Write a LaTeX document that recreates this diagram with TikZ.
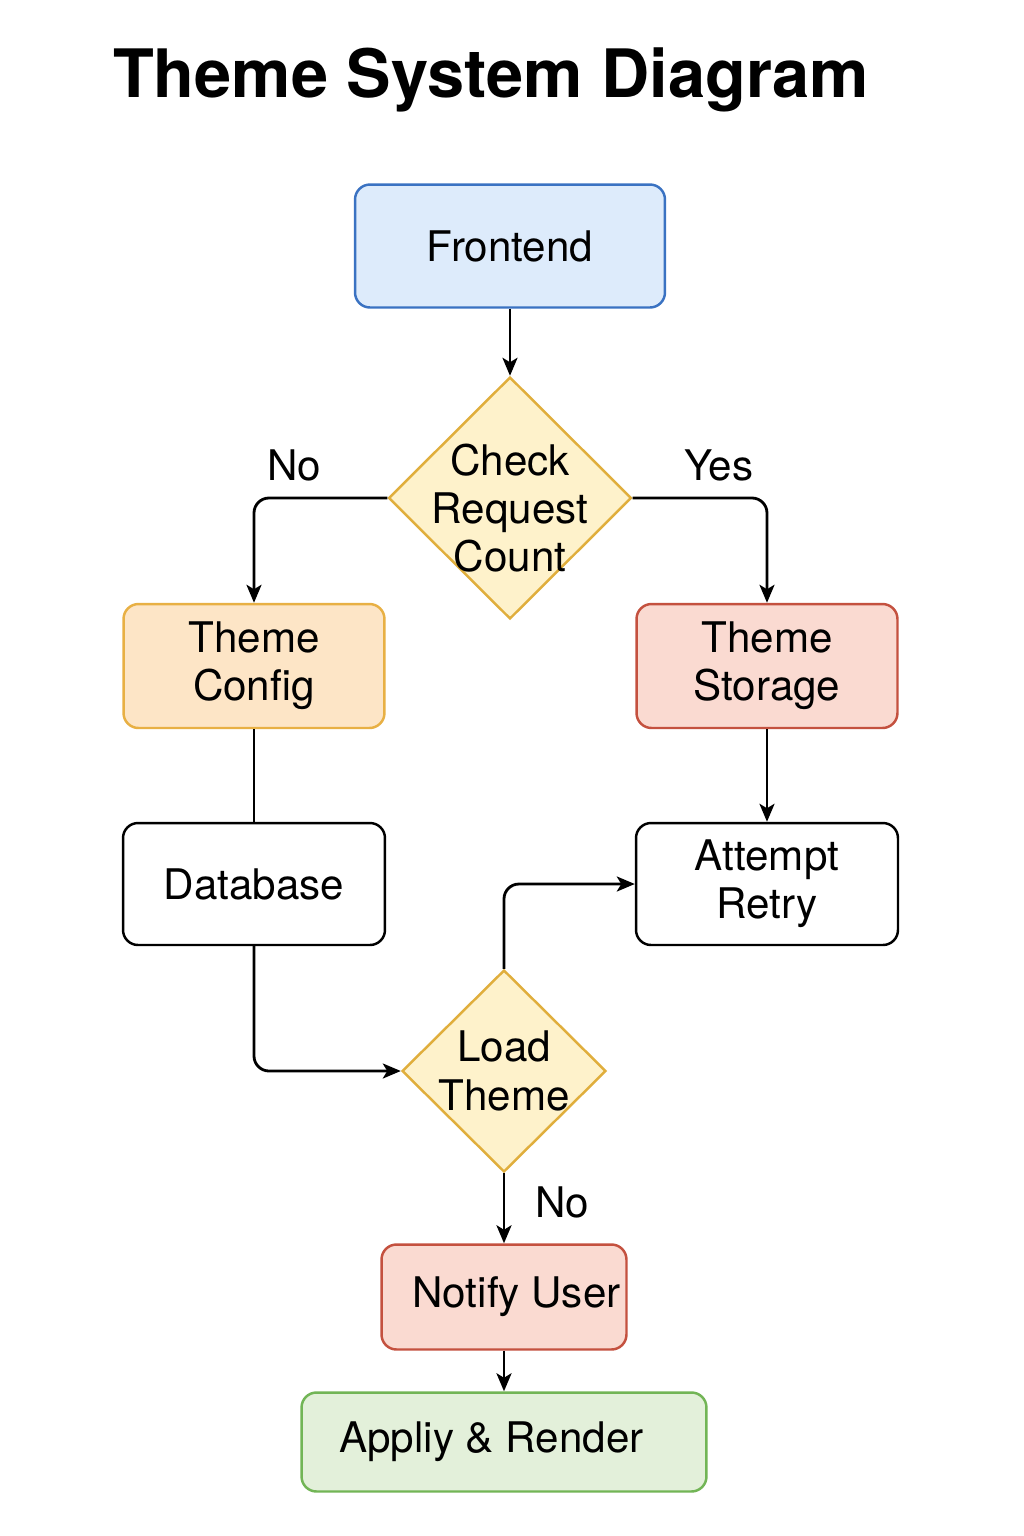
\documentclass[tikz,border=0pt]{standalone}
\usepackage{fontspec}
\setmainfont{TeX Gyre Heros}
\usetikzlibrary{shapes.geometric,arrows.meta}
\definecolor{feFill}{HTML}{DDEBFB}\definecolor{feLine}{HTML}{3A72C2}
\definecolor{decFill}{HTML}{FEF2CB}\definecolor{decLine}{HTML}{E0AE3C}
\definecolor{cfgFill}{HTML}{FDE5C6}\definecolor{cfgLine}{HTML}{E8B044}
\definecolor{redFill}{HTML}{FADAD1}\definecolor{redLine}{HTML}{C4513F}
\definecolor{grnFill}{HTML}{E3F0DA}\definecolor{grnLine}{HTML}{72B556}
\begin{document}
\begin{tikzpicture}[x=0.02cm, y=-0.02cm,
    txt/.style={font=\fontsize{24}{27.5}\selectfont, align=center},
    box/.style={txt, rectangle, rounded corners=0.3cm, draw, line width=1.4pt, inner sep=0pt},
    dec/.style={diamond, draw=decLine, fill=decFill, line width=1.4pt, inner sep=0pt},
    arr/.style={line width=1.6pt, -{Stealth[length=0.36cm, width=0.3cm, inset=0.09cm]}},
    line/.style={line width=1.6pt},
    lbl/.style={txt, inner sep=0pt}]
    \fill[white] (0,0) rectangle (1024,1536);
    \node[font=\fontsize{38}{44}\selectfont\bfseries] (title) at (491,80) {Theme System Diagram};

    \node[box, draw=feLine, fill=feFill, minimum width=6.2cm, minimum height=2.46cm] (fe) at (510,246) {Frontend};
    \node[dec, minimum width=4.86cm, minimum height=4.84cm,
          label={[txt, yshift=-0.2cm]center:Check\\Request\\Count}] (chk) at (510,498) {};
    \node[box, draw=cfgLine, fill=cfgFill, minimum width=5.22cm, minimum height=2.48cm] (cfg) at (254,666) {Theme\\Config};
    \node[box, draw=redLine, fill=redFill, minimum width=5.22cm, minimum height=2.48cm] (sto) at (767,666) {Theme\\Storage};
    \node[box, draw=black, fill=white, minimum width=5.24cm, minimum height=2.44cm] (db) at (254,884) {Database};
    \node[box, draw=black, fill=white, minimum width=5.24cm, minimum height=2.44cm] (att) at (767,884) {Attempt\\Retry};
    \node[dec, minimum width=4.08cm, minimum height=4.04cm,
          label={[txt]center:Load\\Theme}] (load) at (504,1071) {};
    \node[box, draw=redLine, fill=redFill, minimum width=4.9cm, minimum height=2.1cm] (note) at (504,1297) {\hspace*{0.5cm}Notify User};
    \node[box, draw=grnLine, fill=grnFill, minimum width=8.1cm, minimum height=1.98cm] (app) at (504,1442) {Appliy \& Render\hspace*{0.5cm}};

    \draw[arr] (fe) -- (chk);
    \draw[arr, rounded corners=0.3cm] (chk.west) -| node[lbl, pos=0.35, above=0.3cm] (no1) {No} (cfg.north);
    \draw[arr, rounded corners=0.3cm] (chk.east) -| node[lbl, pos=0.32, above=0.3cm] (yes) {Yes} (sto.north);
    \draw[line] (cfg) -- (db);
    \draw[arr] (sto) -- (att);
    \draw[arr, rounded corners=0.3cm] (db.south) |- (load.west);
    \draw[arr, rounded corners=0.3cm] (load.north) |- (att.west);
    \draw[arr] (load) -- node[lbl, pos=0.42, right=0.6cm] (no2) {No} (note);
    \draw[arr] (note) -- (app);
\end{tikzpicture}
\end{document}
